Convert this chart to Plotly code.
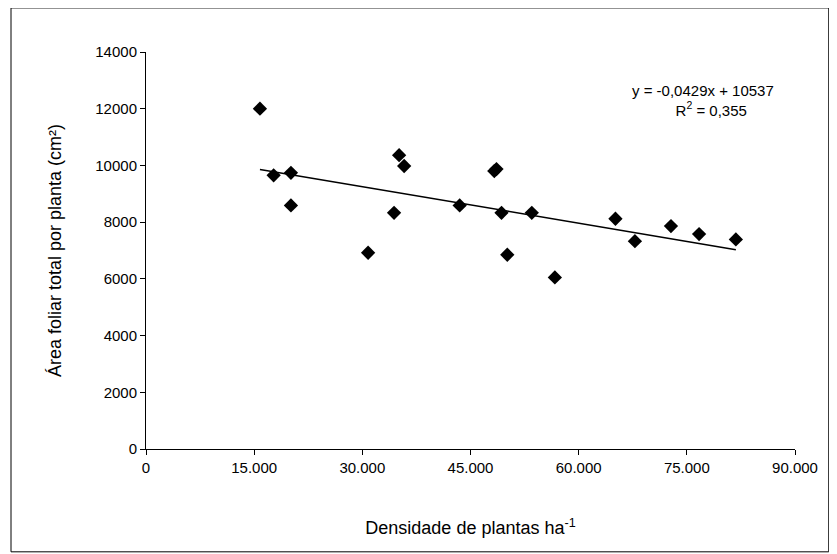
import numpy as np
import plotly.graph_objects as go

# plant density (plants/ha) and total leaf area per plant (cm2)
densidade = [15800, 17700, 20100, 20100, 30800, 34400, 35100, 35800, 43500,
             48300, 48600, 49300, 50100, 53500, 56700, 65100, 67800, 72800,
             76700, 81800]
area_foliar = [12000, 9650, 9740, 8590, 6920, 8330, 10360, 9980, 8590,
               9800, 9870, 8330, 6850, 8330, 6050, 8120, 7330, 7860,
               7580, 7390]

slope, intercept = -0.0429, 10537
x_fit = np.array([min(densidade), max(densidade)])
y_fit = slope * x_fit + intercept

fig = go.Figure()
fig.add_trace(go.Scatter(x=densidade, y=area_foliar, mode="markers",
                         marker=dict(symbol="diamond", size=11, color="black"),
                         showlegend=False))
fig.add_trace(go.Scatter(x=x_fit, y=y_fit, mode="lines",
                         line=dict(color="black", width=1.5), showlegend=False))

fig.add_annotation(x=0.97, y=0.93, xref="paper", yref="paper", showarrow=False,
                   xanchor="right", align="center",
                   text="y = -0,0429x + 10537<br>    R<sup>2</sup> = 0,355",
                   font=dict(size=15, color="black"))

fig.update_xaxes(range=[0, 90000], tickvals=list(range(0, 90001, 15000)),
                 ticktext=["0", "15.000", "30.000", "45.000", "60.000", "75.000", "90.000"],
                 showgrid=False, zeroline=False, showline=True, linecolor="black",
                 ticks="outside", ticklen=5, tickcolor="black",
                 title=dict(text="Densidade de plantas ha<sup>-1</sup>", standoff=46))
fig.update_yaxes(range=[0, 14000], dtick=2000, tickformat="d", showgrid=False,
                 zeroline=False, showline=True, linecolor="black", ticks="outside",
                 ticklen=5, tickcolor="black",
                 title=dict(text="Área foliar total por planta (cm²)", standoff=28))

fig.update_layout(width=837, height=554, plot_bgcolor="white", paper_bgcolor="white",
                  margin=dict(l=138, r=50, t=44, b=113),
                  font=dict(family="Liberation Sans, Arial", size=15, color="black"),
                  shapes=[dict(type="rect", xref="paper", yref="paper",
                               x0=-0.208, x1=1.052, y0=-0.259, y1=1.111,
                               line=dict(color="black", width=1))])

fig.write_html("out.html")
